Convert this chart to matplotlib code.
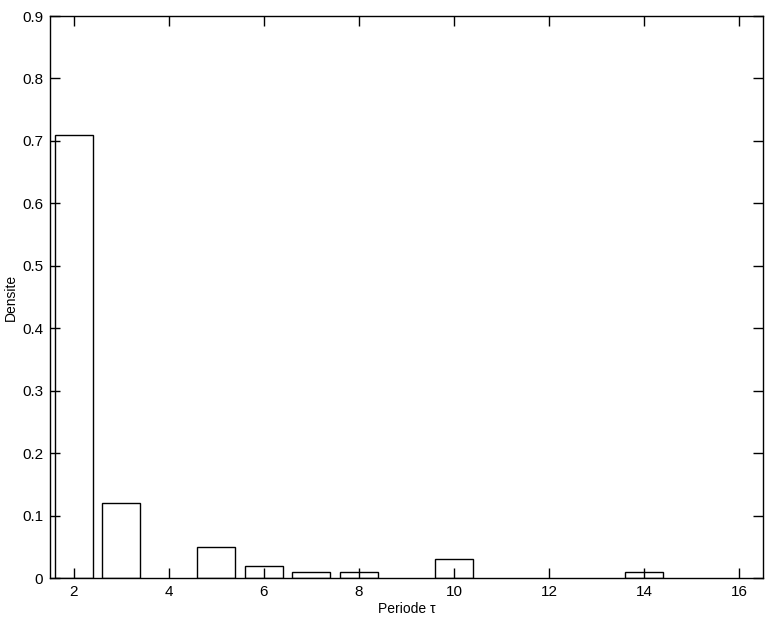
import matplotlib
matplotlib.use("Agg")
import matplotlib.pyplot as plt

periods = [2, 3, 5, 6, 7, 8, 10, 14]
density = [0.71, 0.12, 0.05, 0.02, 0.01, 0.01, 0.03, 0.01]
xticks = [2, 4, 6, 8, 10, 12, 14, 16]
yticks = [0, 0.1, 0.2, 0.3, 0.4, 0.5, 0.6, 0.7, 0.8, 0.9]

plt.rcParams['font.family'] = ['Liberation Sans', 'DejaVu Sans']
plt.rcParams['font.size'] = 10

fig = plt.figure(figsize=(7.71, 6.22), dpi=100)
ax = fig.add_axes([50/771, 44/622, 713/771, 562/622])

ax.bar(periods, density, width=0.8, color='white', edgecolor='black', linewidth=1.0)

ax.set_xlim(1.5, 16.5)
ax.set_ylim(0, 0.9)
ax.set_xticks(xticks)
ax.set_xticklabels([str(t) for t in xticks])
ax.set_yticks(yticks)
ax.set_yticklabels(['0'] + ['%.1f' % t for t in yticks[1:]])
ax.tick_params(direction='in', length=7, top=True, right=True, width=1.0,
               pad=5, labelsize=11)
for s in ax.spines.values():
    s.set_linewidth(1.0)

ax.set_xlabel('Periode τ', family=['Liberation Sans', 'DejaVu Sans'], labelpad=2)
ax.set_ylabel('Densite', labelpad=3)

fig.savefig('out.png', dpi=100)
